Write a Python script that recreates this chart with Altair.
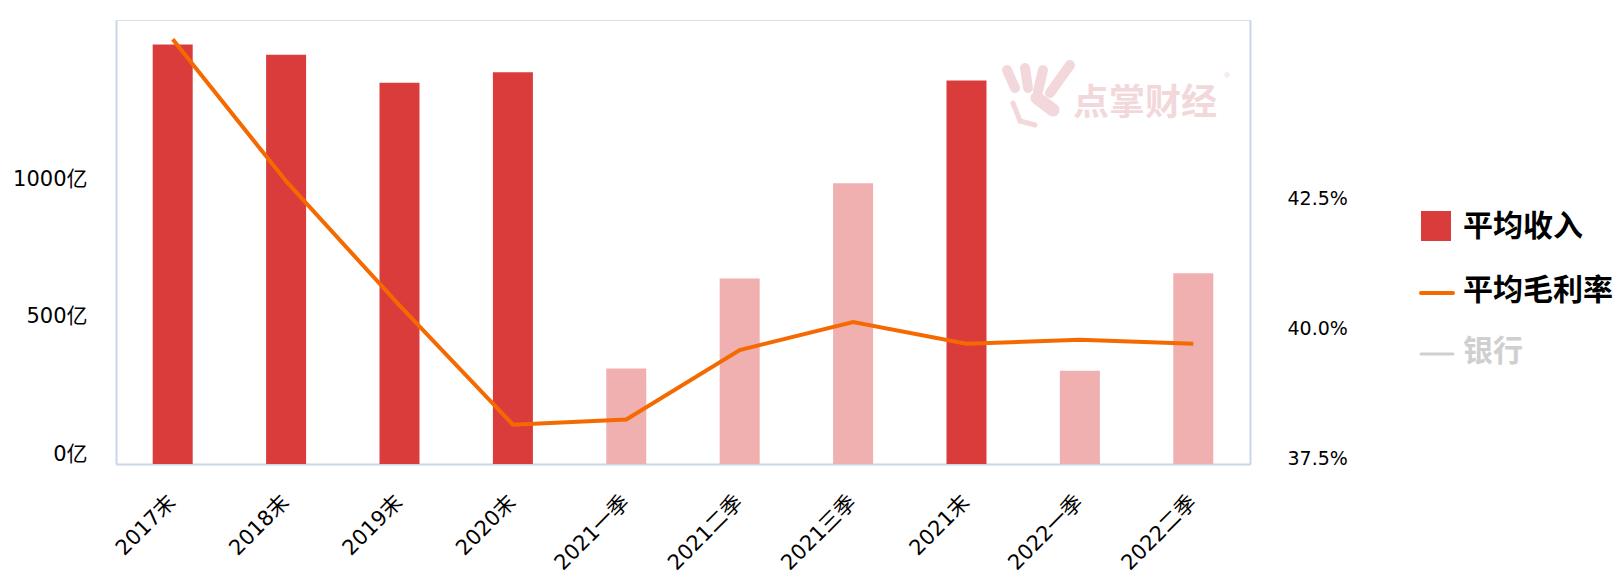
import altair as alt
import pandas as pd

# ---------------- data ----------------
categories = ["2017末", "2018末", "2019末", "2020末", "2021一季",
              "2021二季", "2021三季", "2021末", "2022一季", "2022二季"]
revenue = [1531, 1493, 1391, 1429, 348, 677, 1024, 1399, 340, 696]   # 平均收入 (亿)
margin = [45.70, 42.96, 40.56, 38.26, 38.36, 39.70, 40.24, 39.82, 39.90, 39.82]  # 平均毛利率 (%)
period_type = ["年末", "年末", "年末", "年末", "季度", "季度", "季度", "年末", "季度", "季度"]
left_ticks = [0, 500, 1000]
right_ticks = [37.5, 40.0, 42.5]
legend_labels = ["平均收入", "平均毛利率", "银行"]
watermark = "点掌财经"

df = pd.DataFrame({"period": categories, "revenue": revenue,
                   "margin": margin, "type": period_type})

FONT = "DejaVu Sans, Noto Sans CJK SC"
CJK = "Noto Sans CJK SC"
AXIS_COLOR = "#C9D5E8"
RED = "#DA3C3C"
PINK = "#F0B0B0"
ORANGE = "#F56A00"
GREY = "#CFCFCF"
WM = "#F3D8DB"

x_enc = alt.X(
    "period:N", sort=categories,
    scale=alt.Scale(domain=categories, paddingInner=0, paddingOuter=0),
    axis=alt.Axis(title=None, labelAngle=-45, labelAlign="right", labelBaseline="middle",
                  labelFontSize=21, labelFont=FONT, labelColor="#000000", labelPadding=35,
                  ticks=False, domainColor=AXIS_COLOR, domainWidth=2, grid=False),
)

base = alt.Chart(df)

bars = base.mark_bar(size=40).encode(
    x=x_enc,
    y=alt.Y("revenue:Q",
            scale=alt.Scale(domain=[0, 1620], nice=False, zero=True),
            axis=alt.Axis(title=None, values=left_ticks, labelExpr="datum.value + '亿'",
                          labelFontSize=21, labelFont=FONT, labelColor="#000000",
                          labelPadding=29, labelBaseline="bottom", ticks=False, grid=False,
                          domainColor=AXIS_COLOR, domainWidth=2)),
    color=alt.Color("type:N", scale=alt.Scale(domain=["年末", "季度"], range=[RED, PINK]),
                    legend=None),
)

line = base.mark_line(color=ORANGE, strokeWidth=4).encode(
    x=x_enc,
    y=alt.Y("margin:Q",
            scale=alt.Scale(domain=[37.5, 46.07], nice=False, zero=False),
            axis=alt.Axis(title=None, orient="right", values=right_ticks,
                          labelExpr="format(datum.value, '.1f') + '%'",
                          labelFontSize=19, labelFont=FONT, labelColor="#000000",
                          labelPadding=37, labelBaseline="alphabetic", ticks=False, grid=False,
                          domainColor=AXIS_COLOR, domainWidth=2)),
)

one = alt.Data(values=[{"k": 1}])


def rule(x1, y1, x2, y2, color, width):
    return alt.Chart(one).mark_rule(color=color, strokeWidth=width, strokeCap="round").encode(
        x=alt.value(x1), y=alt.value(y1), x2=alt.value(x2), y2=alt.value(y2))


def label(x, y, text, size, color, weight="bold", align="left", font=CJK):
    return alt.Chart(one).mark_text(align=align, baseline="middle", fontSize=size,
                                    fontWeight=weight, font=font, color=color).encode(
        x=alt.value(x), y=alt.value(y), text=alt.value(text))


# watermark (logo strokes + text)
wm_layers = [
    rule(891, 50, 899, 68, WM, 10),
    rule(909, 48, 912, 68, WM, 10),
    rule(927, 50, 922, 71, WM, 10),
    rule(954, 45, 934, 73, WM, 10),
    rule(921, 78, 937, 90, WM, 13),
    rule(897, 83, 904, 101, WM, 5),
    rule(904, 101, 919, 105, WM, 5),
    label(1029, 84, watermark, 36, WM, align="center"),
    label(1111, 58, "®", 12, WM, weight="normal", align="center"),
]

# legend
legend_layers = [
    alt.Chart(one).mark_rect(color=RED).encode(
        x=alt.value(1305), x2=alt.value(1335), y=alt.value(191), y2=alt.value(221)),
    label(1347, 207, legend_labels[0], 30, "#000000"),
    rule(1305, 273, 1337, 273, ORANGE, 4),
    label(1347, 271, legend_labels[1], 30, "#000000"),
    rule(1305, 334, 1337, 334, GREY, 3),
    label(1347, 332, legend_labels[2], 30, GREY),
]

chart = alt.layer(*wm_layers, bars, line, *legend_layers).resolve_scale(
    y="independent"
).properties(
    width=1134, height=444,
    autosize=alt.AutoSizeParams(type="none"),
    padding={"left": 116, "top": 20, "right": 374, "bottom": 119},
).configure_view(stroke=None).configure(background="white")

chart.save("out.html", embed_options={"renderer": "svg", "actions": False})
